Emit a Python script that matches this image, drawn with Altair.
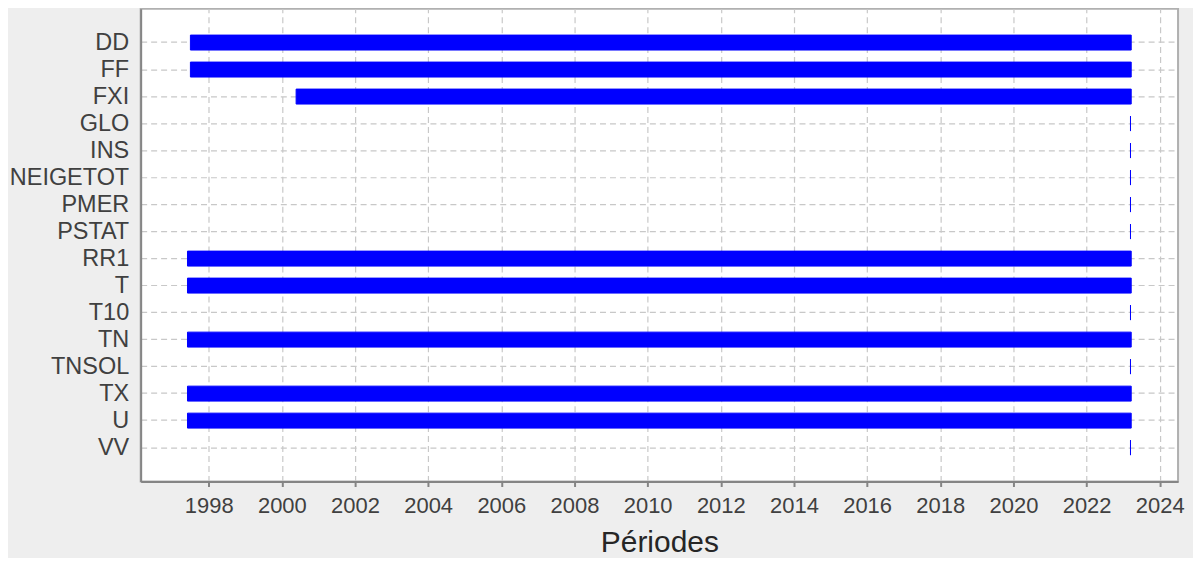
import altair as alt
import pandas as pd

categories = ["DD", "FF", "FXI", "GLO", "INS", "NEIGETOT", "PMER", "PSTAT",
              "RR1", "T", "T10", "TN", "TNSOL", "TX", "U", "VV"]
start_year = [1997.50, 1997.50, 2000.39, 2023.20, 2023.20, 2023.20, 2023.20, 2023.20,
              1997.42, 1997.42, 2023.20, 1997.42, 2023.20, 1997.42, 1997.42, 2023.20]
end_year = [2023.22, 2023.22, 2023.22, 2023.20, 2023.20, 2023.20, 2023.20, 2023.20,
            2023.22, 2023.22, 2023.20, 2023.22, 2023.20, 2023.22, 2023.22, 2023.20]
tick_years = list(range(1998, 2025, 2))

df = pd.DataFrame({"var": categories, "start": start_year, "end": end_year})

FONT = "Liberation Sans"

chart = alt.Chart(df).mark_bar(
    color="#0000ff", stroke="#0000ff", strokeWidth=1
).encode(
    x=alt.X("start:Q",
            scale=alt.Scale(domain=[1996.14, 2024.5], nice=False, zero=False),
            axis=alt.Axis(values=tick_years, format="d", title="Périodes",
                          labelFontSize=22, titleFontSize=30, titleFontWeight="normal",
                          titleColor="#262626", labelColor="#404040",
                          tickSize=5, tickWidth=2, tickColor="#858585",
                          labelPadding=9, titlePadding=11,
                          domainColor="#858585", domainWidth=2,
                          grid=True, gridDash=[6, 4], gridColor="#c8c8c8", gridWidth=1.2,
                          labelFont=FONT, titleFont=FONT)),
    x2="end:Q",
    y=alt.Y("var:N", sort=categories,
            scale=alt.Scale(paddingInner=0.446, paddingOuter=0.977),
            axis=alt.Axis(title=None, labelFontSize=23.5, labelColor="#404040",
                          ticks=False, labelPadding=12, bandPosition=0.5,
                          domainColor="#858585", domainWidth=2,
                          grid=True, gridDash=[6, 4], gridColor="#c8c8c8", gridWidth=1.2,
                          minExtent=133, maxExtent=133, labelFont=FONT)),
).properties(
    width=1040, height=474,
    background="#eeeeee",
    padding={"left": 0, "top": 0, "right": 8, "bottom": 0},
).configure_view(
    fill="white", stroke="#b0b0b0", strokeWidth=2
)

chart.save("out.html", embed_options={"renderer": "svg", "actions": False})
